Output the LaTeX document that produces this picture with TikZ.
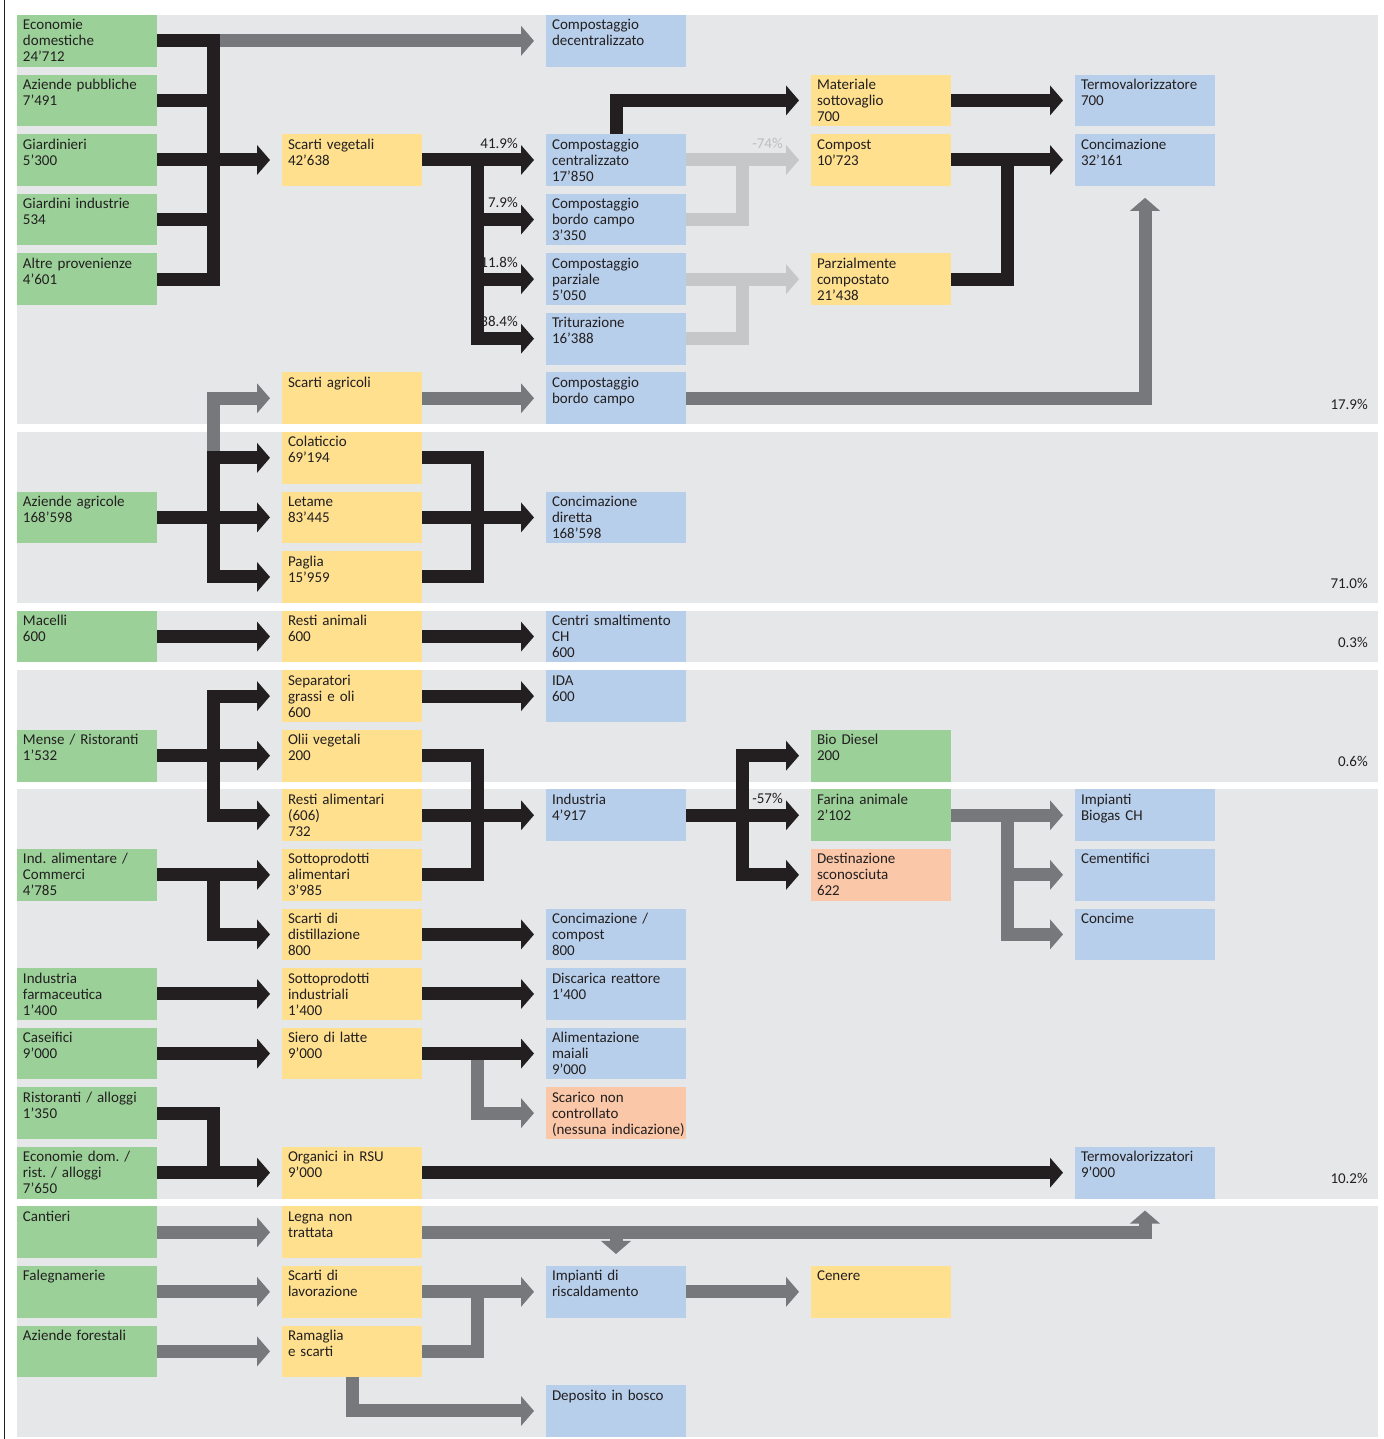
\documentclass[tikz,border=0pt]{standalone}
\usepackage{fontspec}
\setmainfont{Carlito}
\usetikzlibrary{arrows.meta,calc,positioning}
\definecolor{SrcGreen}{HTML}{9BD199}
\definecolor{MidYellow}{HTML}{FEE08F}
\definecolor{DestBlue}{HTML}{B8CFEB}
\definecolor{UnkSalmon}{HTML}{FAC7A9}
\definecolor{BandGray}{HTML}{E6E7E9}
\definecolor{InkDark}{HTML}{231F20}
\definecolor{FlowGray}{HTML}{77787B}
\definecolor{FlowLight}{HTML}{C6C7C9}
\definecolor{LabelLight}{HTML}{BDBEC0}
\pgfdeclarelayer{bands}
\pgfdeclarelayer{flows}
\pgfsetlayers{bands,flows,main}
\newcommand{\boxfont}{\fontsize{15pt}{16pt}\selectfont\frenchspacing}
\tikzset{
  box/.style={anchor=north west, inner xsep=6pt, inner ysep=0pt, outer sep=0pt,
              text width=128pt, align=left, text height=15pt, text depth=36.7pt,
              font=\boxfont, text=InkDark},
  src/.style={box, fill=SrcGreen},
  mid/.style={box, fill=MidYellow},
  dst/.style={box, fill=DestBlue},
  unk/.style={box, fill=UnkSalmon},
  flowblk/.style={line width=13pt, draw=InkDark, line cap=rect, line join=miter},
  flowgray/.style={flowblk, draw=FlowGray},
  flowlight/.style={flowblk, draw=FlowLight},
  arrowin/.style={-{Triangle[width=30pt, length=13pt, line width=0pt]}, shorten >=12pt},
  flowlbl/.style={anchor=base east, inner sep=0pt, font=\boxfont, text=InkDark},
  sharelbl/.style={anchor=base east, inner sep=0pt, font=\boxfont, text=InkDark},
}

\begin{document}
\begin{tikzpicture}[x=1pt, y=-1pt]
\useasboundingbox (0,0) rectangle (1383,1439);
% grid
\foreach \c/\cx in {1/17, 2/282, 3/546, 4/811, 5/1075}
  \coordinate (c\c) at (\cx,0);
\foreach \r in {1,...,24}
  \coordinate (r\r) at (0,{15+(\r-1)*59.57});
\coordinate (x1) at (213.5,0);
\coordinate (x2) at (477.5,0);
\coordinate (x3) at (742.5,0);
\coordinate (x4) at (1007.5,0);

\begin{pgfonlayer}{bands}
\fill[white] (0,0) rectangle (1383,1439);
\foreach \a/\b in {1/7, 8/10, 11/11, 12/13, 14/20, 21/24}
  \fill[BandGray] (17,{15+(\a-1)*59.57}) rectangle (1378,{15+(\b-1)*59.57+51.7});
\draw[InkDark, line width=1pt] (4.5,0) -- (4.5,1439);
\end{pgfonlayer}

% sources
\node[src] (ecodom) at (c1 |- r1) {Economie\\domestiche\\24'712};
\node[src] (azpub) at (c1 |- r2) {Aziende pubbliche\\7'491};
\node[src] (giard) at (c1 |- r3) {Giardinieri\\5'300};
\node[src] (giardind) at (c1 |- r4) {Giardini industrie\\534};
\node[src] (altre) at (c1 |- r5) {Altre provenienze\\4'601};
\node[src] (aziagr) at (c1 |- r9) {Aziende agricole\\168'598};
\node[src] (macelli) at (c1 |- r11) {Macelli\\600};
\node[src] (mense) at (c1 |- r13) {Mense / Ristoranti\\1'532};
\node[src] (indalim) at (c1 |- r15) {Ind. alimentare /\\Commerci\\4'785};
\node[src] (farma) at (c1 |- r17) {Industria\\farmaceutica\\1'400};
\node[src] (caseif) at (c1 |- r18) {Caseifici\\9'000};
\node[src] (ristall) at (c1 |- r19) {Ristoranti / alloggi\\1'350};
\node[src] (ecodom2) at (c1 |- r20) {Economie dom. /\\rist. / alloggi\\7'650};
\node[src] (cantieri) at (c1 |- r21) {Cantieri};
\node[src] (faleg) at (c1 |- r22) {Falegnamerie};
\node[src] (azfor) at (c1 |- r23) {Aziende forestali};

% waste kinds
\node[mid] (scartiveg) at (c2 |- r3) {Scarti vegetali\\42'638};
\node[mid] (sagr) at (c2 |- r7) {Scarti agricoli};
\node[mid] (colat) at (c2 |- r8) {Colaticcio\\69'194};
\node[mid] (letame) at (c2 |- r9) {Letame\\83'445};
\node[mid] (paglia) at (c2 |- r10) {Paglia\\15'959};
\node[mid] (restian) at (c2 |- r11) {Resti animali\\600};
\node[mid] (separ) at (c2 |- r12) {Separatori\\grassi e oli\\600};
\node[mid] (olii) at (c2 |- r13) {Olii vegetali\\200};
\node[mid] (restial) at (c2 |- r14) {Resti alimentari\\(606)\\732};
\node[mid] (sottal) at (c2 |- r15) {Sottoprodotti\\alimentari\\3'985};
\node[mid] (distil) at (c2 |- r16) {Scarti di\\distillazione\\800};
\node[mid] (sottind) at (c2 |- r17) {Sottoprodotti\\industriali\\1'400};
\node[mid] (siero) at (c2 |- r18) {Siero di latte\\9'000};
\node[mid] (rsu) at (c2 |- r20) {Organici in RSU\\9'000};
\node[mid] (legna) at (c2 |- r21) {Legna non\\trattata};
\node[mid] (slav) at (c2 |- r22) {Scarti di\\lavorazione};
\node[mid] (ramag) at (c2 |- r23) {Ramaglia\\e scarti};

% treatment
\node[dst] (cdec) at (c3 |- r1) {Compostaggio\\decentralizzato};
\node[dst] (ccen) at (c3 |- r3) {Compostaggio\\centralizzato\\17'850};
\node[dst] (cbc) at (c3 |- r4) {Compostaggio\\bordo campo\\3'350};
\node[dst] (cpar) at (c3 |- r5) {Compostaggio\\parziale\\5'050};
\node[dst] (trit) at (c3 |- r6) {Triturazione\\16'388};
\node[dst] (cbc2) at (c3 |- r7) {Compostaggio\\bordo campo};
\node[dst] (concdir) at (c3 |- r9) {Concimazione\\diretta\\168'598};
\node[dst] (centri) at (c3 |- r11) {Centri smaltimento\\CH\\600};
\node[dst] (ida) at (c3 |- r12) {IDA\\600};
\node[dst] (indu) at (c3 |- r14) {Industria\\4'917};
\node[dst] (conccomp) at (c3 |- r16) {Concimazione /\\compost\\800};
\node[dst] (discarica) at (c3 |- r17) {Discarica reattore\\1'400};
\node[dst] (alimmai) at (c3 |- r18) {Alimentazione\\maiali\\9'000};
\node[unk] (scarico) at (c3 |- r19) {Scarico non\\controllato\\\mbox{(nessuna indicazione)}};
\node[dst] (risc) at (c3 |- r22) {Impianti di\\riscaldamento};
\node[dst] (deposito) at (c3 |- r24) {Deposito in bosco};

% products
\node[mid] (msv) at (c4 |- r2) {Materiale\\sottovaglio\\700};
\node[mid] (compost) at (c4 |- r3) {Compost\\10'723};
\node[mid] (parz) at (c4 |- r5) {Parzialmente\\compostato\\21'438};
\node[src] (biod) at (c4 |- r13) {Bio Diesel\\200};
\node[src] (farina) at (c4 |- r14) {Farina animale\\2'102};
\node[unk] (destsc) at (c4 |- r15) {Destinazione\\sconosciuta\\622};
\node[mid] (cenere) at (c4 |- r22) {Cenere};

% final use
\node[dst] (termo) at (c5 |- r2) {Termovalorizzatore\\700};
\node[dst] (concim) at (c5 |- r3) {Concimazione\\32'161};
\node[dst] (biogas) at (c5 |- r14) {Impianti\\Biogas CH};
\node[dst] (cement) at (c5 |- r15) {Cementifici};
\node[dst] (concime) at (c5 |- r16) {Concime};
\node[dst] (termo2) at (c5 |- r20) {Termovalorizzatori\\9'000};

% shares
\node[flowlbl] (s419) at (518,148.1) {41.9\%};
\node[flowlbl] (s79) at (518,207.7) {7.9\%};
\node[flowlbl] (s118) at (518,267.3) {11.8\%};
\node[flowlbl] (s384) at (518,326.9) {38.4\%};
\node[flowlbl, text=LabelLight] (s74) at (783,148.1) {-74\%};
\node[flowlbl] (s57) at (783,803.4) {-57\%};
\node[sharelbl] (b179) at (1368,409.4) {17.9\%};
\node[sharelbl] (b710) at (1368,588.1) {71.0\%};
\node[sharelbl] (b03) at (1368,647.7) {0.3\%};
\node[sharelbl] (b06) at (1368,766.8) {0.6\%};
\node[sharelbl] (b102) at (1368,1183.8) {10.2\%};

\begin{pgfonlayer}{flows}
% vegetable waste
\draw[flowgray, arrowin] (x1 |- ecodom.east) -- (cdec.west);
\foreach \n in {ecodom, azpub, giard, giardind, altre}
  \draw[flowblk] (\n.east) -| (x1 |- scartiveg.west);
\draw[flowblk, arrowin] (x1 |- scartiveg.west) -- (scartiveg.west);
\draw[flowblk, arrowin] (scartiveg.east) -- (ccen.west);
\foreach \n in {cbc, cpar, trit}
  \draw[flowblk, arrowin] (x2 |- ccen.west) |- (\n.west);
\draw[flowblk, arrowin] (ccen.north) |- (msv.west);
\draw[flowblk, arrowin] (msv.east) -- (termo.west);
\draw[flowlight, arrowin] (ccen.east) -- (compost.west);
\draw[flowlight] (cbc.east) -| (x3 |- compost.west);
\draw[flowlight, arrowin] (cpar.east) -- (parz.west);
\draw[flowlight] (trit.east) -| (x3 |- parz.west);
\draw[flowblk, arrowin] (compost.east) -- (concim.west);
\draw[flowblk] (parz.east) -| (x4 |- concim.west);
\draw[flowgray, arrowin] (cbc2.east) -| (concim.south);
% farms
\draw[flowgray, arrowin] (x1 |- colat.west) |- (sagr.west);
\draw[flowgray, arrowin] (sagr.east) -- (cbc2.west);
\draw[flowblk, arrowin] (aziagr.east) -- (letame.west);
\foreach \n in {colat, paglia}
  \draw[flowblk, arrowin] (x1 |- aziagr.east) |- (\n.west);
\foreach \n in {colat, paglia}
  \draw[flowblk] (\n.east) -| (x2 |- concdir.west);
\draw[flowblk, arrowin] (letame.east) -- (concdir.west);
% slaughterhouses
\draw[flowblk, arrowin] (macelli.east) -- (restian.west);
\draw[flowblk, arrowin] (restian.east) -- (centri.west);
% canteens and food industry
\draw[flowblk, arrowin] (mense.east) -- (olii.west);
\foreach \n in {separ, restial}
  \draw[flowblk, arrowin] (x1 |- mense.east) |- (\n.west);
\draw[flowblk, arrowin] (separ.east) -- (ida.west);
\draw[flowblk, arrowin] (restial.east) -- (indu.west);
\foreach \n in {olii, sottal}
  \draw[flowblk] (\n.east) -| (x2 |- indu.west);
\draw[flowblk, arrowin] (indalim.east) -- (sottal.west);
\draw[flowblk, arrowin] (x1 |- indalim.east) |- (distil.west);
\draw[flowblk, arrowin] (distil.east) -- (conccomp.west);
\draw[flowblk, arrowin] (farma.east) -- (sottind.west);
\draw[flowblk, arrowin] (sottind.east) -- (discarica.west);
\draw[flowgray, arrowin] (x2 |- siero.east) |- (scarico.west);
\draw[flowblk, arrowin] (caseif.east) -- (siero.west);
\draw[flowblk, arrowin] (siero.east) -- (alimmai.west);
\draw[flowblk, arrowin] (indu.east) -- (farina.west);
\foreach \n in {biod, destsc}
  \draw[flowblk, arrowin] (x3 |- indu.east) |- (\n.west);
\draw[flowgray, arrowin] (farina.east) -- (biogas.west);
\foreach \n in {cement, concime}
  \draw[flowgray, arrowin] (x4 |- farina.east) |- (\n.west);
% municipal waste
\draw[flowblk] (ristall.east) -| (x1 |- ecodom2.east);
\draw[flowblk, arrowin] (ecodom2.east) -- (rsu.west);
\draw[flowblk, arrowin] (rsu.east) -- (termo2.west);
% wood
\draw[flowgray, arrowin] (cantieri.east) -- (legna.west);
\draw[flowgray, arrowin] (legna.east) -| (termo2.south);
\draw[flowgray, arrowin] (risc.north |- legna.east) -- (risc.north);
\draw[flowgray, arrowin] (faleg.east) -- (slav.west);
\draw[flowgray, arrowin] (azfor.east) -- (ramag.west);
\draw[flowgray, arrowin] (slav.east) -- (risc.west);
\draw[flowgray] (ramag.east) -| (x2 |- risc.west);
\draw[flowgray, arrowin] (ramag.south) |- (deposito.west);
\draw[flowgray, arrowin] (risc.east) -- (cenere.west);
\end{pgfonlayer}
\end{tikzpicture}
\end{document}
